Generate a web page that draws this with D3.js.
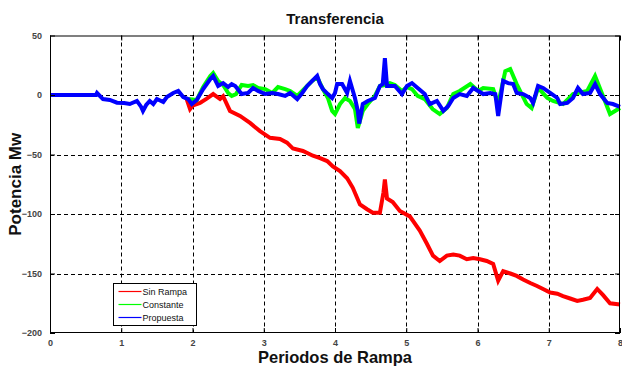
<!DOCTYPE html>
<html>
<head>
<meta charset="utf-8">
<script src="https://cdn.jsdelivr.net/npm/d3@7"></script>
<style>
  html, body { margin: 0; padding: 0; background: #fff; }
  svg { display: block; font-family: "Liberation Sans", Arial, sans-serif; }
</style>
</head>
<body>
<svg id="chart" width="622" height="367"></svg>
<script>
// Transferencia de potencia por periodo de rampa
const xTicks = [0, 1, 2, 3, 4, 5, 6, 7, 8];
const yTicks = [50, 0, -50, -100, -150, -200];
const seriesNames = ["Sin Rampa", "Constante", "Propuesta"];
const seriesColors = ["#ff0000", "#00ff00", "#0000ff"];

// Sin Rampa
const sinRampaT = [1.91, 1.965, 2.0, 2.105, 2.2, 2.29, 2.386, 2.43, 2.526, 2.667, 2.807, 2.947, 3.088, 3.228, 3.326, 3.41, 3.55, 3.69, 3.79, 3.89, 3.97, 4.07, 4.17, 4.25, 4.35, 4.45, 4.53, 4.63, 4.68, 4.70, 4.73, 4.81, 4.91, 5.05, 5.19, 5.29, 5.375, 5.47, 5.57, 5.66, 5.75, 5.85, 5.94, 6.035, 6.13, 6.22, 6.29, 6.36, 6.46, 6.55, 6.64, 6.74, 6.835, 6.92, 7.02, 7.12, 7.2, 7.3, 7.40, 7.48, 7.58, 7.68, 7.76, 7.86, 8.0];
const sinRampaV = [-2, -11.8, -9, -6.7, -3, 0.8, -3.4, -1, -13.4, -17.6, -23.5, -30.3, -36, -37, -40, -45, -47, -51, -53, -55.5, -60, -64, -70, -78, -92, -96, -99, -99, -82, -71, -87, -90, -97.5, -102, -114, -125, -135, -139.5, -135, -134, -135, -138, -137, -138, -139.5, -142, -156, -148, -150, -152, -155, -158, -160.5, -163, -166, -167, -169, -171, -173, -172, -170.5, -163, -168, -175, -176];

// Constante
const constanteT = [1.94, 2.06, 2.15, 2.25, 2.29, 2.36, 2.43, 2.50, 2.55, 2.61, 2.69, 2.78, 2.85, 2.92, 3.02, 3.12, 3.20, 3.30, 3.37, 3.47, 3.54, 3.61, 3.68, 3.75, 3.79, 3.83, 3.90, 3.96, 4.0, 4.07, 4.14, 4.21, 4.28, 4.32, 4.39, 4.46, 4.56, 4.63, 4.70, 4.77, 4.84, 4.94, 5.01, 5.08, 5.16, 5.26, 5.37, 5.47, 5.57, 5.66, 5.75, 5.90, 6.01, 6.08, 6.22, 6.29, 6.39, 6.46, 6.55, 6.69, 6.76, 6.85, 6.98, 7.06, 7.20, 7.34, 7.54, 7.65, 7.75, 7.86, 8.0];
const constanteV = [-3.4, -4.2, 6.7, 16, 18.5, 11.8, 8.4, 1.7, -0.8, 0.8, 8.4, 7.6, 8.4, 5.9, 5, 1.7, 6.7, 5, 3.4, -0.8, 3.4, 7.6, 11.8, 15, 10, 5, -2.5, -13.4, -16, -7.6, -2.5, -5, -11.8, -27.7, -13.4, -7.6, -0.8, 7.6, 8.4, 10, 8.4, 3.4, 6.7, 5, -0.8, -3.4, -11.8, -16, -11, 0.8, 3.4, 9.2, 3.4, 5.9, 5, -7.6, 20, 21.8, 9.2, -7.6, -11, 5.9, -2.5, -5, -7.6, 0.8, 3.4, 16, 0.8, -16, -11];

// Propuesta
const propuestaT = [0, 0.646, 0.66, 0.744, 0.84, 0.94, 1.04, 1.12, 1.22, 1.28, 1.305, 1.35, 1.40, 1.45, 1.50, 1.59, 1.64, 1.73, 1.80, 1.87, 1.94, 1.99, 2.06, 2.15, 2.25, 2.29, 2.36, 2.43, 2.50, 2.55, 2.60, 2.69, 2.78, 2.85, 2.92, 3.02, 3.12, 3.20, 3.30, 3.37, 3.47, 3.54, 3.61, 3.68, 3.75, 3.79, 3.83, 3.90, 3.96, 4.0, 4.03, 4.10, 4.17, 4.21, 4.28, 4.32, 4.34, 4.39, 4.46, 4.56, 4.63, 4.67, 4.70, 4.73, 4.84, 4.94, 5.01, 5.08, 5.16, 5.26, 5.33, 5.43, 5.52, 5.59, 5.66, 5.75, 5.85, 5.94, 6.01, 6.08, 6.18, 6.25, 6.29, 6.33, 6.36, 6.43, 6.50, 6.55, 6.64, 6.74, 6.78, 6.85, 6.92, 7.02, 7.12, 7.16, 7.26, 7.34, 7.41, 7.48, 7.58, 7.65, 7.72, 7.82, 7.90, 8.0];
const propuestaV = [0, 0, 1.7, -3.4, -4.2, -6.5, -6.7, -7.6, -5, -10, -13.4, -8.4, -5, -7.6, -3.4, -5.9, -1.7, 1.7, 3.4, -1.7, -3.4, -7.6, -4.2, 5, 13.4, 16, 7.6, 10, 6.7, 9.2, 7.6, 0.8, 1.7, 5.9, 3.4, 0.8, 1.7, 0.8, -0.8, 1.7, -3.4, 1.7, 7.6, 11.8, 16, 9.2, 5, 0.8, -2.5, 1.7, 9.2, 9.2, 1.7, 11.8, -2.5, -13.4, -24, -7.6, -5, -2.5, 7.6, 9.2, 31, 7.6, 7.6, 0.8, 7.6, 10, 5.9, 0.8, -7.6, -5, -13.4, -9.2, -2.5, 0.8, -0.8, 5.9, 3.4, 0.8, 1.7, 0.8, -17.6, -0.8, 11.8, 10, 9.2, 1.7, 0.8, -2.5, -6.7, 7.6, 5.9, 1.7, -2.5, -7.6, -6.7, -2.5, 5.9, 0.8, 1.7, 9.2, 0.8, -6.7, -7.6, -10];

const svg = d3.select("#chart");
const W = 622, H = 367;
const m = { left: 50, right: 2, top: 35.5, bottom: 34 };

const x = d3.scaleLinear().domain([0, 8]).range([m.left, W - m.right]);
const y = d3.scaleLinear().domain([-200, 50]).range([H - m.bottom, m.top]);

const x0 = x.range()[0], x1 = x.range()[1];
const y0 = y.range()[0], y1 = y.range()[1];

// grid
const grid = svg.append("g").attr("stroke", "#000").attr("stroke-width", 1)
  .attr("stroke-dasharray", "4,3");
grid.selectAll("line.vx").data(xTicks.filter(d => d > 0 && d < 8)).enter()
  .append("line")
  .attr("x1", d => Math.round(x(d)) + 0.5).attr("x2", d => Math.round(x(d)) + 0.5)
  .attr("y1", y1).attr("y2", y0);
grid.selectAll("line.hy").data(yTicks.filter(d => d > -200 && d < 50)).enter()
  .append("line")
  .attr("y1", d => Math.round(y(d)) + 0.5).attr("y2", d => Math.round(y(d)) + 0.5)
  .attr("x1", x0).attr("x2", x1);

// series
const seriesT = [sinRampaT, constanteT, propuestaT];
const seriesV = [sinRampaV, constanteV, propuestaV];
const line = d3.line().x(d => x(d[0])).y(d => y(d[1]));
const plot = svg.append("g");
seriesT.forEach((ts, i) => {
  const pts = ts.map((t, k) => [t, seriesV[i][k]]);
  plot.append("path")
    .datum(pts)
    .attr("fill", "none")
    .attr("stroke", seriesColors[i])
    .attr("stroke-width", 4)
    .attr("stroke-linejoin", "miter")
    .attr("stroke-miterlimit", 4)
    .attr("d", line);
});
// flat start of the proposed series is a thin line
plot.append("path")
  .datum([[0, 0], [0.646, 0]])
  .attr("fill", "none").attr("stroke", seriesColors[2]).attr("stroke-width", 1.2)
  .attr("d", line);

// axes
const axB = d3.axisBottom(x).tickValues(xTicks).tickSize(-5).tickPadding(7).tickFormat(d3.format("d"));
const axL = d3.axisLeft(y).tickValues(yTicks).tickSize(-5).tickPadding(8).tickFormat(d3.format("d"));
const axT = d3.axisTop(x).tickValues(xTicks).tickSize(-5).tickFormat("");
const axR = d3.axisRight(y).tickValues(yTicks).tickSize(-5).tickFormat("");

function styleAxis(g) {
  g.select(".domain").remove();
  g.selectAll("text").attr("font-size", 9).attr("font-weight", "bold").attr("fill", "#444")
    .attr("font-family", "'Liberation Sans', Arial, sans-serif");
  g.selectAll("line").attr("stroke", "#000");
}
svg.append("g").attr("transform", `translate(0,${y0})`).call(axB).call(styleAxis);
svg.append("g").attr("transform", `translate(${x0},0)`).call(axL).call(styleAxis);
svg.append("g").attr("transform", `translate(0,${y1})`).call(axT).call(styleAxis);
svg.append("g").attr("transform", `translate(${x1},0)`).call(axR).call(styleAxis);

svg.append("rect")
  .attr("x", x0 + 0.5).attr("y", y1 + 0.5)
  .attr("width", x1 - x0 - 1).attr("height", y0 - y1 - 1)
  .attr("fill", "none").attr("stroke", "#000").attr("stroke-width", 1);

// title and axis labels
svg.append("text").attr("x", (x0 + x1) / 2).attr("y", 24)
  .attr("text-anchor", "middle").attr("font-size", 15).attr("font-weight", "bold")
  .attr("fill", "#111").text("Transferencia");
svg.append("text").attr("x", (x0 + x1) / 2).attr("y", 363)
  .attr("text-anchor", "middle").attr("font-size", 16.5).attr("font-weight", "bold")
  .attr("fill", "#111").text("Periodos de Rampa");
svg.append("text")
  .attr("transform", `translate(21,${(y0 + y1) / 2}) rotate(-90)`)
  .attr("text-anchor", "middle").attr("font-size", 17).attr("font-weight", "bold")
  .attr("fill", "#111").text("Potencia Mw");

// legend
const lg = svg.append("g").attr("transform", "translate(113.5,283.5)");
lg.append("rect").attr("width", 83).attr("height", 42)
  .attr("fill", "#fff").attr("stroke", "#000").attr("stroke-width", 1);
seriesNames.forEach((name, i) => {
  const yy = 8 + i * 13;
  lg.append("line").attr("x1", 5).attr("x2", 28).attr("y1", yy).attr("y2", yy)
    .attr("stroke", seriesColors[i]).attr("stroke-width", 1.2);
  lg.append("text").attr("x", 29).attr("y", yy + 3.5).attr("font-size", 9)
    .attr("fill", "#111").text(name);
});
</script>
</body>
</html>
